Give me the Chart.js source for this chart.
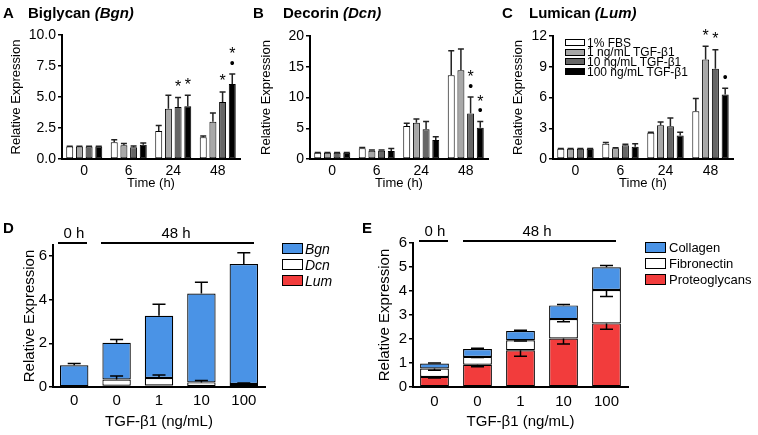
<!DOCTYPE html>
<html>
<head>
<meta charset="utf-8">
<script src="https://cdn.jsdelivr.net/npm/chart.js@4.4.0/dist/chart.umd.min.js"></script>
<style>
  body { margin: 0; background: #fff; }
  #wrap { position: relative; width: 758px; height: 435px; background: #fff; font-family: 'Liberation Sans', Arial, sans-serif; color: #000; }
  canvas { position: absolute; }
  .t { position: absolute; white-space: nowrap; line-height: 16px; }
  .ttl { font-size: 15px; font-weight: bold; }
  .box { position: absolute; border: 1px solid #000; box-sizing: border-box; }
  .line { position: absolute; height: 2px; background: #000; }
</style>
</head>
<body>
<div id="wrap">
  <canvas id="cA" width="250" height="200" style="left:0;top:0"></canvas>
  <canvas id="cB" width="250" height="200" style="left:250px;top:0"></canvas>
  <canvas id="cC" width="258" height="200" style="left:500px;top:0"></canvas>
  <canvas id="cD" width="370" height="235" style="left:0;top:200px"></canvas>
  <canvas id="cE" width="388" height="235" style="left:370px;top:200px"></canvas>

  <!-- panel titles -->
  <div class="t ttl" style="left:3px;top:5px">A</div>
  <div class="t ttl" style="left:28px;top:5px">Biglycan <i>(Bgn)</i></div>
  <div class="t ttl" style="left:253px;top:5px">B</div>
  <div class="t ttl" style="left:283px;top:5px">Decorin <i>(Dcn)</i></div>
  <div class="t ttl" style="left:502px;top:5px">C</div>
  <div class="t ttl" style="left:529px;top:5px">Lumican <i>(Lum)</i></div>
  <div class="t ttl" style="left:3px;top:220px">D</div>
  <div class="t ttl" style="left:362px;top:220px">E</div>

  <!-- legends -->
  <div id="legC"></div>
  <div id="legD"></div>
  <div id="legE"></div>

  <!-- brackets D -->
  <div class="line" style="left:58px;top:242px;width:29px"></div>
  <div class="line" style="left:101px;top:242px;width:153px"></div>
  <div class="t" style="left:58px;top:225px;width:32px;text-align:center;font-size:15px">0 h</div>
  <div class="t" style="left:150px;top:225px;width:52px;text-align:center;font-size:15px">48 h</div>
  <!-- brackets E -->
  <div class="line" style="left:419px;top:240px;width:29px"></div>
  <div class="line" style="left:463px;top:240px;width:153px"></div>
  <div class="t" style="left:419px;top:223px;width:32px;text-align:center;font-size:15px">0 h</div>
  <div class="t" style="left:511px;top:223px;width:52px;text-align:center;font-size:15px">48 h</div>
</div>

<script>
// ---- data ----
var timeLabels = ['0', '6', '24', '48'];
var groupNames = ['1% FBS', '1 ng/mL TGF-\u03b21', '10 ng/mL TGF-\u03b21', '100 ng/mL TGF-\u03b21'];

// Biglycan, one array per treatment (0, 6, 24, 48 h)
var bgnFBS = [1.0, 1.35, 2.25, 1.75];
var bgn1 = [1.0, 1.1, 4.05, 3.0];
var bgn10 = [1.0, 0.95, 4.2, 4.6];
var bgn100 = [1.0, 1.15, 4.25, 6.05];
var bgnErrFBS = [0.03, 0.2, 0.45, 0.1];
var bgnErr1 = [0.03, 0.15, 1.1, 0.7];
var bgnErr10 = [0.03, 0.1, 0.75, 0.8];
var bgnErr100 = [0.03, 0.15, 0.9, 0.8];

// Decorin
var dcnFBS = [1.0, 1.75, 5.35, 13.6];
var dcn1 = [1.0, 1.35, 5.9, 14.45];
var dcn10 = [1.0, 1.35, 4.85, 7.4];
var dcn100 = [1.0, 1.3, 3.1, 5.1];
var dcnErrFBS = [0.05, 0.1, 0.45, 4.0];
var dcnErr1 = [0.05, 0.1, 0.6, 3.45];
var dcnErr10 = [0.05, 0.1, 1.25, 2.7];
var dcnErr100 = [0.05, 0.4, 0.5, 1.0];

// Lumican
var lumFBS = [1.0, 1.5, 2.55, 4.65];
var lum1 = [1.0, 1.05, 3.3, 9.7];
var lum10 = [1.0, 1.35, 3.2, 8.8];
var lum100 = [1.0, 1.2, 2.3, 6.3];
var lumErrFBS = [0.03, 0.1, 0.07, 1.25];
var lumErr1 = [0.03, 0.05, 0.3, 1.3];
var lumErr10 = [0.03, 0.1, 0.8, 1.85];
var lumErr100 = [0.03, 0.3, 0.3, 0.6];

// significance marks per treatment (per time point)
var sigBgn = [['', '', '', ''], ['', '', '', ''], ['', '', '*', '*'], ['', '', '*', '*\u2022']];
var sigDcn = [['', '', '', ''], ['', '', '', ''], ['', '', '', '*\u2022'], ['', '', '', '*\u2022']];
var sigLum = [['', '', '', ''], ['', '', '', '*'], ['', '', '', '*'], ['', '', '', '\u2022']];

// panel D / E : stacked, 0 h then 48 h with TGF-b1 dose
var doseLabels = ['0', '0', '1', '10', '100'];
var stackLum = [0.02, 0.06, 0.07, 0.05, 0.04];
var stackDcn = [0.02, 0.28, 0.34, 0.16, 0.10];
var stackBgn = [0.95, 1.68, 2.85, 4.07, 5.49];
var stackErrDcn = [0, 0.16, 0.14, 0.09, 0.04];
var stackErrBgn = [0.08, 0.15, 0.53, 0.51, 0.52];

var protGly = [0.42, 0.93, 1.53, 2.02, 2.65];
var fibro = [0.35, 0.325, 0.42, 0.81, 1.39];
var collagen = [0.21, 0.325, 0.38, 0.57, 0.95];
var errProt = [0.04, 0.09, 0.25, 0.23, 0.24];
var errFibro = [0.07, 0.03, 0.03, 0.11, 0.27];
var errColl = [0.02, 0.03, 0.03, 0.04, 0.07];

var grayFills = ['#ffffff', '#a8a8a8', '#666666', '#000000'];
var BLUE = '#4a93e6', RED = '#f23c3c';

Chart.defaults.font.family = "'Liberation Sans', Arial, sans-serif";
Chart.defaults.color = '#000';

// error bars + stars, drawn from the chart's own scales
var errPlugin = {
    id: 'errbars',
    afterDatasetsDraw: function (chart) {
        var ctx = chart.ctx, ys = chart.scales.y;
        var stacked = chart.options.scales.y.stacked;
        var cap = chart.options.plugins.errbars.cap;
        chart.data.datasets.forEach(function (ds, i) {
            var meta = chart.getDatasetMeta(i);
            meta.data.forEach(function (bar, j) {
                var top = ds.data[j];
                if (stacked) {
                    for (var k = 0; k < i; k++) top += chart.data.datasets[k].data[j];
                }
                var e = ds.errors ? ds.errors[j] : 0;
                var dir = ds.errDir || 1;
                var y0 = ys.getPixelForValue(top);
                var y1 = ys.getPixelForValue(top + dir * e);
                ctx.save();
                ctx.strokeStyle = ds.errColor || '#222';
                ctx.lineWidth = 1.5;
                if (e > 0) {
                    ctx.beginPath();
                    ctx.moveTo(bar.x, y0);
                    ctx.lineTo(bar.x, y1);
                    ctx.moveTo(bar.x - cap / 2, y1);
                    ctx.lineTo(bar.x + cap / 2, y1);
                    ctx.stroke();
                }
                var m = ds.marks ? ds.marks[j] : '';
                if (m) {
                    ctx.fillStyle = '#000';
                    ctx.textAlign = 'center';
                    ctx.textBaseline = 'middle';
                    var yy = Math.min(y0, y1);
                    if (m.indexOf('\u2022') >= 0) {
                        ctx.font = "14px 'Liberation Sans', Arial, sans-serif";
                        ctx.fillText('\u2022', bar.x, yy - 10);
                        yy -= 9;
                    }
                    if (m.indexOf('*') >= 0) {
                        ctx.font = "16px 'Liberation Sans', Arial, sans-serif";
                        ctx.fillText('*', bar.x, yy - 10);
                    }
                }
                ctx.restore();
            });
        });
    }
};

function axisOpts(box, area, cfg) {
    // box: canvas x, y, w, h on page; area: chart area L, T, R, B on page
    return {
        x: {
            stacked: !!cfg.stacked,
            grid: { display: false, drawTicks: false },
            border: { display: true, color: '#000', width: 2 },
            ticks: { font: { size: cfg.tickSize }, padding: cfg.xPad, color: '#000' },
            title: { display: true, text: cfg.xTitle, font: { size: cfg.titleSize }, padding: { top: 0, bottom: cfg.xTitlePad } },
            afterFit: function (s) { s.height = box[1] + box[3] - area[3]; }
        },
        y: {
            stacked: !!cfg.stacked,
            min: 0, max: cfg.yMax,
            ticks: {
                font: { size: cfg.tickSize }, padding: 2, color: '#000',
                callback: function (v) { return v.toFixed(cfg.dec); }
            },
            afterBuildTicks: function (s) {
                // whole steps only, so an axis that runs to 6.5 still ends its labels at 6
                var t = [];
                for (var v = 0; v <= s.max + 1e-9; v += cfg.yStep) t.push({ value: v });
                s.ticks = t;
            },
            grid: { display: true, drawOnChartArea: false, drawTicks: true, tickLength: 4, color: '#000', lineWidth: 1.5 },
            border: { display: true, color: '#000', width: 2 },
            title: { display: true, text: 'Relative Expression', font: { size: cfg.titleSize }, padding: { top: cfg.yTitlePad, bottom: 0 } },
            afterFit: function (s) { s.width = area[0] - box[0]; }
        }
    };
}

function timeChart(id, box, area, vals, errs, sig, yMax, yStep, dec) {
    var datasets = vals.map(function (v, i) {
        return {
            label: groupNames[i], data: v, errors: errs[i], marks: sig[i],
            backgroundColor: grayFills[i], borderColor: '#000', borderWidth: 1, borderSkipped: false,
            categoryPercentage: 0.87, barPercentage: 0.72
        };
    });
    new Chart(document.getElementById(id), {
        type: 'bar',
        data: { labels: timeLabels, datasets: datasets },
        options: {
            responsive: false, animation: false,
            layout: { padding: { left: 0, top: area[1] - box[1], right: box[0] + box[2] - area[2], bottom: 0 } },
            plugins: { legend: { display: false }, tooltip: { enabled: false }, errbars: { cap: 6 } },
            scales: axisOpts(box, area, {
                yMax: yMax, yStep: yStep, dec: dec, tickSize: 14, titleSize: 13,
                xTitle: 'Time (h)', xPad: 4, xTitlePad: 9, yTitlePad: area[0] - box[0] > 58 ? 9 : 10.5
            })
        },
        plugins: [errPlugin]
    });
}

timeChart('cA', [0, 0, 250, 200], [62, 35, 240, 159], [bgnFBS, bgn1, bgn10, bgn100],
    [bgnErrFBS, bgnErr1, bgnErr10, bgnErr100], sigBgn, 10, 2.5, 1);
timeChart('cB', [250, 0, 250, 200], [310, 36, 488, 159], [dcnFBS, dcn1, dcn10, dcn100],
    [dcnErrFBS, dcnErr1, dcnErr10, dcnErr100], sigDcn, 20, 5, 0);
timeChart('cC', [500, 0, 258, 200], [553, 36, 733, 159], [lumFBS, lum1, lum10, lum100],
    [lumErrFBS, lumErr1, lumErr10, lumErr100], sigLum, 12, 3, 0);

function stackChart(id, box, area, datasets, yMax, yStep, cfg) {
    new Chart(document.getElementById(id), {
        type: 'bar',
        data: { labels: doseLabels, datasets: datasets },
        options: {
            responsive: false, animation: false,
            layout: { padding: { left: 0, top: area[1] - box[1], right: box[0] + box[2] - area[2], bottom: 0 } },
            plugins: { legend: { display: false }, tooltip: { enabled: false }, errbars: { cap: 13 } },
            scales: axisOpts(box, area, {
                stacked: true, yMax: yMax, yStep: yStep, dec: 0, tickSize: 15, titleSize: 15,
                xTitle: 'TGF-\u03b21 (ng/mL)', xPad: cfg.xPad, xTitlePad: cfg.xTitlePad, yTitlePad: cfg.yTitlePad
            })
        },
        plugins: [errPlugin]
    });
}

function seg(label, data, color, errors, dir) {
    return {
        label: label, data: data, errors: errors, errDir: dir, errColor: '#000',
        backgroundColor: color, borderColor: '#000', borderWidth: 1.2, borderSkipped: false,
        categoryPercentage: 1, barPercentage: 0.67
    };
}

stackChart('cD', [0, 200, 370, 235], [53, 245, 265, 387], [
    seg('Lum', stackLum, RED, null, 1),
    seg('Dcn', stackDcn, '#ffffff', stackErrDcn, 1),
    seg('Bgn', stackBgn, BLUE, stackErrBgn, 1)
], 6.5, 2, { xPad: 5, xTitlePad: 4, yTitlePad: 21 });

stackChart('cE', [370, 200, 388, 235], [413, 243, 628, 387], [
    seg('Proteoglycans', protGly, RED, errProt, -1),
    seg('Fibronectin', fibro, '#ffffff', errFibro, -1),
    seg('Collagen', collagen, BLUE, errColl, 1)
], 6, 1, { xPad: 6, xTitlePad: 4, yTitlePad: 6 });

// legends as html
function legend(el, items, x, y0, pitch, bw, bh, tx, size, italic) {
    var html = '';
    items.forEach(function (it, i) {
        var y = y0 + i * pitch;
        html += '<div class="box" style="left:' + x + 'px;top:' + y + 'px;width:' + bw + 'px;height:' + bh + 'px;background:' + it[1] + '"></div>';
        html += '<div class="t" style="left:' + tx + 'px;top:' + (y + bh / 2 - 8) + 'px;font-size:' + size + 'px;' +
            (italic ? 'font-style:italic;' : '') + '">' + it[0] + '</div>';
    });
    document.getElementById(el).innerHTML = html;
}
legend('legC', groupNames.map(function (n, i) { return [n, grayFills[i]]; }), 565, 39, 9.7, 20, 7, 587, 12, false);
legend('legD', [['Bgn', BLUE], ['Dcn', '#ffffff'], ['Lum', RED]], 282, 243, 16, 21, 11, 305, 14, true);
legend('legE', [['Collagen', BLUE], ['Fibronectin', '#ffffff'], ['Proteoglycans', RED]], 645, 242, 16.2, 21, 11, 669, 13, false);
</script>
</body>
</html>
